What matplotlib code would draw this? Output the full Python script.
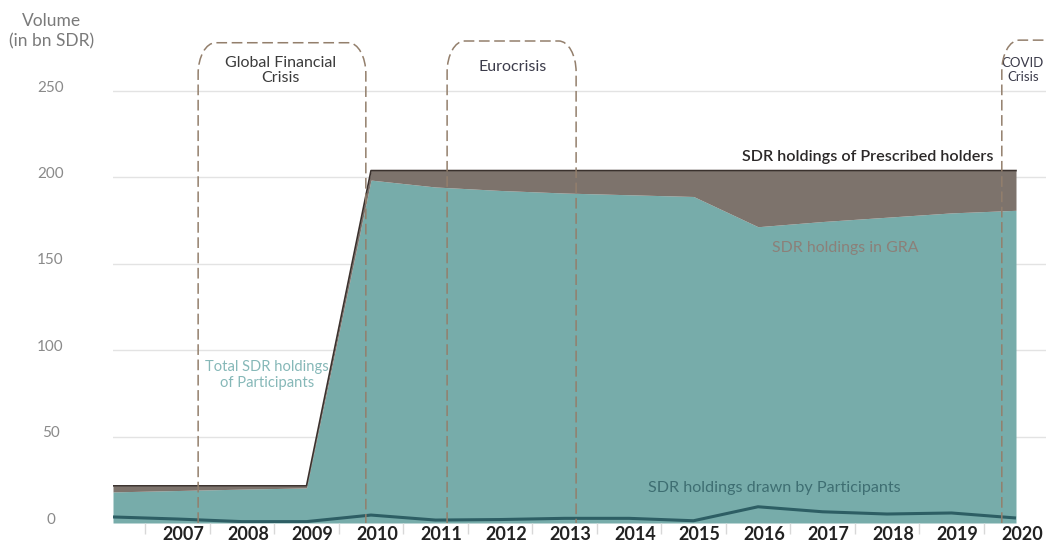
import matplotlib
matplotlib.use("Agg")
import matplotlib.pyplot as plt
from matplotlib.path import Path
from matplotlib.patches import PathPatch
from matplotlib.transforms import ScaledTranslation

plt.rcParams['font.family'] = ['Lato', 'DejaVu Sans']

# SDR holdings, bn SDR, end of year
years = list(range(2006, 2021))
total_holdings = [21.5, 21.5, 21.5, 21.5, 204, 204, 204, 204, 204, 204, 204, 204, 204, 204, 204]
participants = [18.0, 18.8, 19.6, 20.3, 198.5, 194.5, 192.5, 191.0, 190.0, 189.0,
                171.5, 174.5, 177.0, 179.5, 181.0]
drawn = [3.5, 2.3, 0.8, 0.8, 4.6, 1.7, 2.0, 2.7, 2.7, 1.3, 9.4, 6.5, 5.2, 5.8, 2.9]

label_years = list(range(2007, 2021))
y_ticks = [0, 50, 100, 150, 200, 250]

# crisis periods: (start, end, top of box)
crises = [
    (2007.32, 2009.92, 278),
    (2011.18, 2013.18, 279),
    (2019.78, 2021.0, 279.5),
]

teal = '#77acaa'
brown = '#7d736c'
dark_teal = '#2d5e64'
dash_col = '#937f6c'

fig = plt.figure(figsize=(10.46, 5.41), dpi=100)
ax = fig.add_axes([113 / 1046, 18 / 541, 933 / 1046, 501 / 541])
ax.set_xlim(2006, 2006 + 933 / 64.5)
ax.set_ylim(0, 290)

for s in ax.spines.values():
    s.set_visible(False)

# grid
for v in y_ticks[1:]:
    ax.axhline(v, color='#e3e3e3', lw=1, zorder=0)

# stacked areas
ax.fill_between(years, 0, participants, color=teal, lw=0, zorder=1)
ax.fill_between(years, participants, total_holdings, color=brown, lw=0, zorder=1)
ax.plot(years, total_holdings, color='#3a312d', lw=1.2, zorder=2)
ax.plot(years, drawn, color=dark_teal, lw=2.2, zorder=3, solid_capstyle='butt')

# crisis boxes with rounded top corners
rx, ry = 0.27, 18
for l, r, top in crises:
    verts = [(l, 0), (l, top - ry),
             (l, top - 0.448 * ry), (l + 0.448 * rx, top), (l + rx, top),
             (r - rx, top),
             (r - 0.448 * rx, top), (r, top - 0.448 * ry), (r, top - ry),
             (r, 0)]
    codes = [Path.MOVETO, Path.LINETO,
             Path.CURVE4, Path.CURVE4, Path.CURVE4,
             Path.LINETO,
             Path.CURVE4, Path.CURVE4, Path.CURVE4,
             Path.LINETO]
    patch = PathPatch(Path(verts, codes), fill=False, edgecolor=dash_col, lw=1.1,
                      linestyle=(0, (7, 3)), zorder=4, clip_on=False)
    ax.add_patch(patch)

ax.text(2008.6, 262, "Global Financial\nCrisis", ha='center', va='center',
        fontsize=11.5, color='#3b3b3b', linespacing=1.1)
ax.text(2012.19, 264, "Eurocrisis", ha='center', va='center',
        fontsize=11.5, color='#3b3b4a')
ax.text(2019.78, 262, "COVID\nCrisis", ha='left', va='center', multialignment='center',
        fontsize=9.5, color='#3b3b4a', linespacing=1.2)

# series labels
ax.text(2017.7, 212, "SDR holdings of Prescribed holders", ha='center', va='center',
        fontsize=11.6, color='#2b2828', fontweight='semibold')
ax.text(2017.35, 159, "SDR holdings in GRA", ha='center', va='center',
        fontsize=11.4, color='#8c8079')
ax.text(2008.39, 85.5, "Total SDR holdings\nof Participants", ha='center', va='center',
        fontsize=10.6, color='#86b8b8', linespacing=1.15)
ax.text(2016.25, 20.5, "SDR holdings drawn by Participants", ha='center', va='center',
        fontsize=11.6, color='#3e6e72')

# y axis
ax.set_yticks(y_ticks)
ax.set_yticklabels([str(v) for v in y_ticks])
ax.tick_params(axis='y', length=0, pad=45, labelsize=11, labelcolor='#8a8a8a')
shift_up = ScaledTranslation(0, 5 / 100, fig.dpi_scale_trans)
for lab in ax.get_yticklabels():
    lab.set_horizontalalignment('center')
    lab.set_transform(lab.get_transform() + shift_up)

fig.text(52 / 1046, 1 - 31 / 541, "Volume\n(in bn SDR)", ha='center', va='center',
         fontsize=12.5, color='#7a7a7a', linespacing=1.3)

# x axis
ax.set_xticks(label_years)
ax.set_xticklabels([str(y) for y in label_years])
ax.set_xticks([y + 0.5 for y in years[:-1]], minor=True)
ax.tick_params(axis='x', which='major', length=0, pad=2, labelsize=13)
ax.tick_params(axis='x', which='minor', length=8, width=1, color='#d8d8d8')
shift_right = ScaledTranslation(6 / 100, 0, fig.dpi_scale_trans)
for lab in ax.get_xticklabels():
    lab.set_fontweight('bold')
    lab.set_color('#222222')
    lab.set_transform(lab.get_transform() + shift_right)

fig.savefig('out.png', dpi=100)
